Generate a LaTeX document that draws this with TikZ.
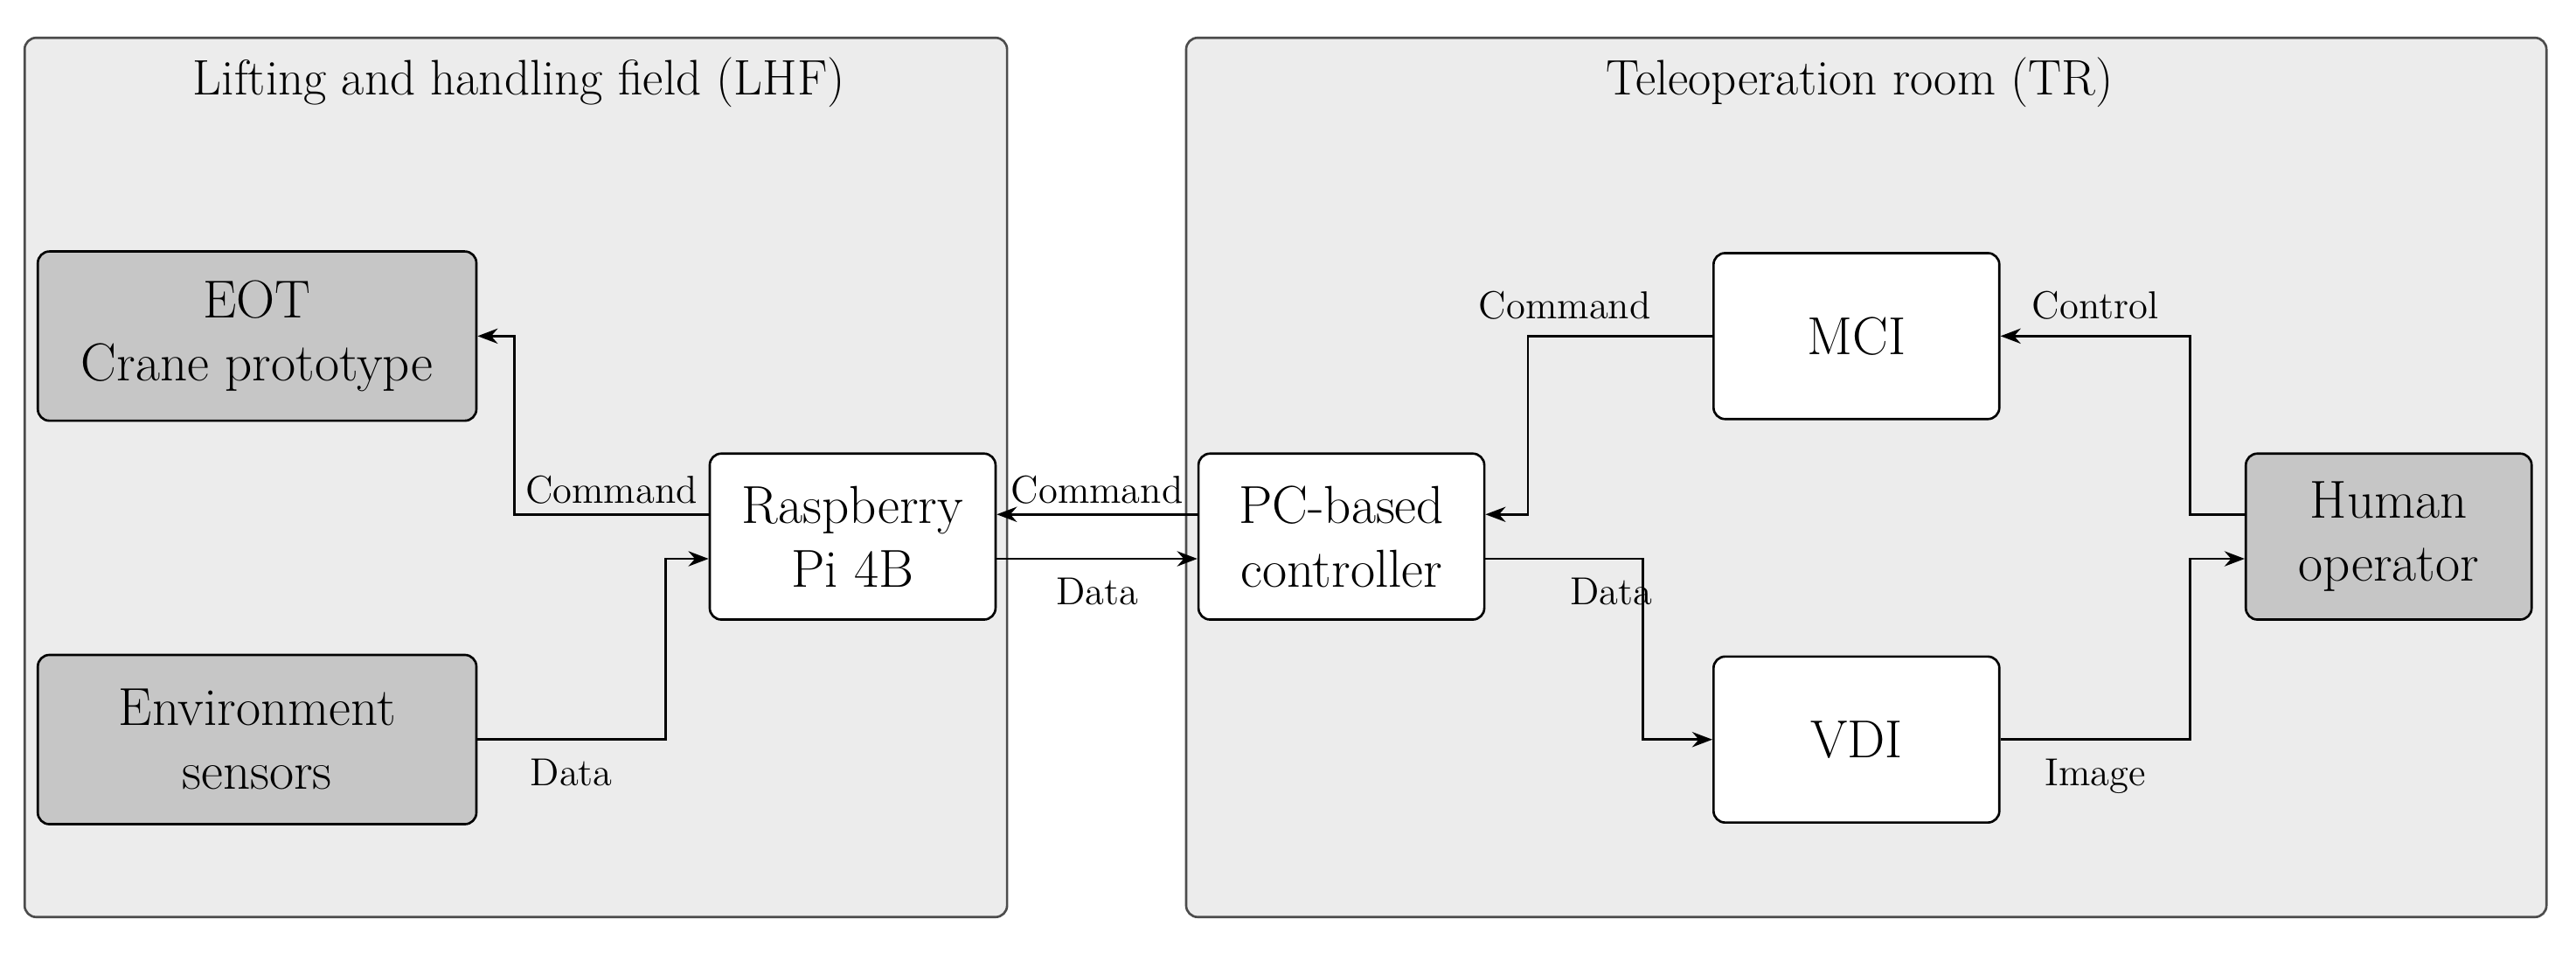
\documentclass[tikz,border=0pt]{standalone}
\usetikzlibrary{arrows.meta}
\begin{document}
\begin{tikzpicture}[x=0.02cm, y=-0.02cm,
    panel/.style={draw=black!70, fill=gray!15, rounded corners=4pt, thick},
    blk/.style={draw=black, thick, fill=white, rounded corners=4pt, align=center,
      font=\fontsize{18.5}{22}\selectfont, minimum width=3.48cm, minimum height=2.02cm, inner sep=0pt},
    dev/.style={blk, fill=gray!45},
    lbl/.style={font=\fontsize{13.5}{16}\selectfont},
    >={Stealth[length=7pt]}]
    \useasboundingbox (0, 0) rectangle (1568, 580);
    \fill[white] (0, 0) rectangle (1568, 580);
    % the two areas
    \draw[panel] (15, 23) rectangle (613, 558);
    \draw[panel] (722, 23) rectangle (1550, 558);
    \node[font=\LARGE] (lhf) at (316, 50) {Lifting and handling field (LHF)};
    \node[font=\LARGE] (tr) at (1132, 50) {Teleoperation room (TR)};
    % blocks
    \node[dev, minimum width=5.34cm, minimum height=2.06cm] (eot) at (156.5, 204.5) {EOT\\Crane prototype};
    \node[dev, minimum width=5.34cm, minimum height=2.06cm] (env) at (156.5, 450) {Environment\\sensors};
    \node[blk] (rpi) at (519, 326.5) {Raspberry\\Pi 4B};
    \node[blk] (pc) at (816.5, 326.5) {PC-based\\controller};
    \node[blk] (mci) at (1130, 204.5) {MCI};
    \node[blk] (vdi) at (1130, 450) {VDI};
    \node[dev] (hum) at (1454, 326.5) {Human\\operator};
    % connectors
    \draw[thick, ->] ([yshift=0.27cm]rpi.west) -| node[lbl, pos=0.25, above] {Command} (eot.east -| 313, 0) -- (eot.east);
    \draw[thick, ->] (env.east) -| node[lbl, pos=0.25, below=3pt] {Data} ([yshift=-0.27cm]rpi.west -| 405, 0) -- ([yshift=-0.27cm]rpi.west);
    \draw[thick, ->] ([yshift=0.27cm]pc.west) -- node[lbl, above] {Command} ([yshift=0.27cm]rpi.east);
    \draw[thick, ->] ([yshift=-0.27cm]rpi.east) -- node[lbl, below=3pt] {Data} ([yshift=-0.27cm]pc.west);
    \draw[thick, ->] (mci.west) -| node[lbl, pos=0.4, above=2pt] {Command} ([yshift=0.27cm]pc.east -| 930, 0) -- ([yshift=0.27cm]pc.east);
    \draw[thick, ->] ([yshift=-0.27cm]pc.east) -| node[lbl, pos=0.4, below=3pt] {Data} (vdi.west -| 1000, 0) -- (vdi.west);
    \draw[thick, ->] ([yshift=0.27cm]hum.west) -| (mci.east -| 1333, 0) -- node[lbl, pos=0.5, above=2pt] {Control} (mci.east);
    \draw[thick, ->] (vdi.east) -- node[lbl, pos=0.5, below=3pt] {Image} (vdi.east -| 1333, 0) |- ([yshift=-0.27cm]hum.west);
\end{tikzpicture}
\end{document}
